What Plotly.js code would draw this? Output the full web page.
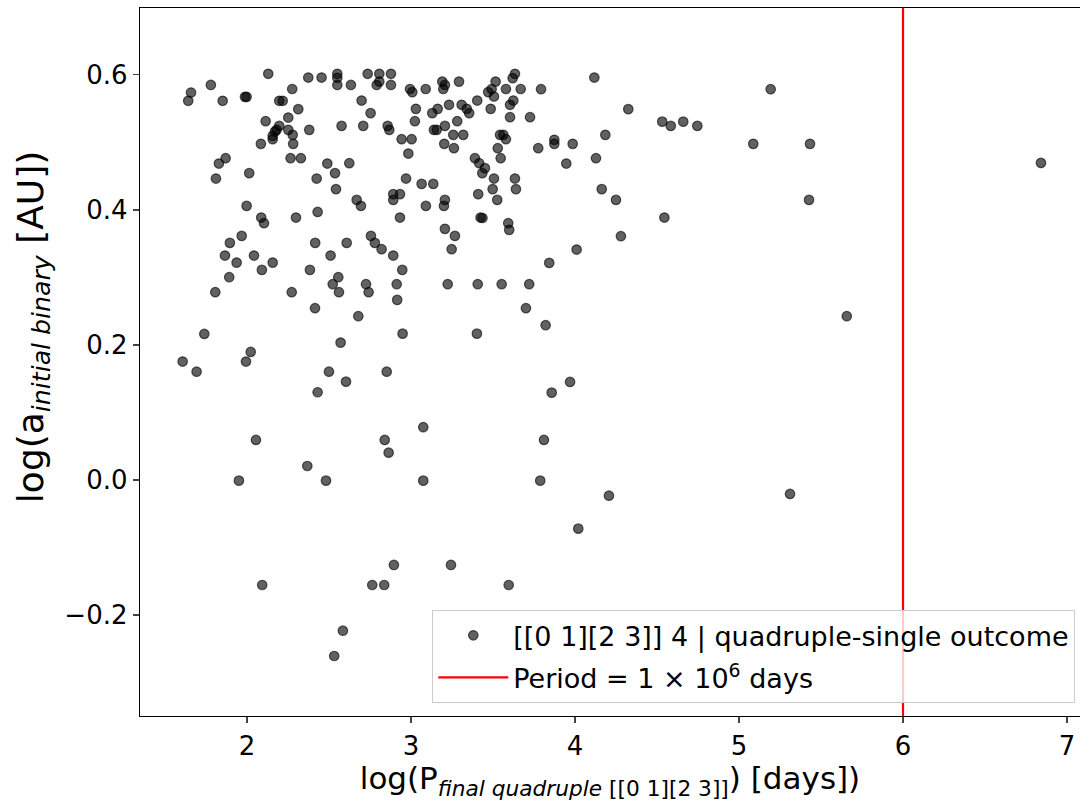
<!DOCTYPE html>
<html>
<head>
<meta charset="utf-8">
<script src="https://cdn.plot.ly/plotly-3.0.1.min.js"></script>
<style>html,body{margin:0;padding:0;background:#fff;}#chart{width:1080px;height:802px;}</style>
</head>
<body>
<div id="chart"></div>
<script>
// log(P_final quadruple) [days]
const logPeriod = [
  2.130,2.374,2.455,1.780,1.659,1.642,1.852,1.988,1.998,2.276,2.197,2.218,2.313,2.114,2.252,2.197,2.181,2.171,2.157,2.157,
  2.252,2.279,2.282,2.085,2.380,2.266,2.329,1.870,1.829,1.811,2.014,2.490,2.425,1.998,2.087,2.104,2.299,2.431,
  2.551,2.551,2.551,2.634,2.736,2.807,2.878,2.807,2.791,2.878,2.994,3.008,3.090,3.191,3.207,3.197,3.293,3.516,3.471,3.492,
  3.506,3.579,3.634,3.620,3.669,2.699,2.754,2.577,2.709,2.858,2.868,3.030,3.024,2.943,3.004,2.984,3.130,3.163,3.232,3.140,
  3.157,3.207,3.282,3.258,3.319,3.203,3.262,3.309,3.340,3.355,3.404,3.486,3.604,3.624,3.604,3.726,3.543,3.563,3.579,3.529,
  3.547,3.390,3.416,3.451,3.435,3.506,3.634,3.498,3.640,3.410,3.526,3.593,3.424,3.436,3.207,3.201,3.091,2.933,2.624,2.537,
  2.543,2.970,3.065,3.136,2.892,2.933,2.892,2.669,2.695,3.207,
  4.118,3.793,4.325,4.532,4.584,4.660,4.746,5.193,5.087,3.874,3.874,3.776,3.986,4.185,4.128,3.947,4.163,4.250,4.545,
  1.968,1.896,1.866,1.937,2.043,2.091,2.157,1.892,1.807,2.416,2.510,2.384,2.273,2.415,1.740,2.023,1.994,1.608,1.693,2.500,2.431,
  3.599,3.268,3.248,2.756,2.780,2.821,2.892,2.608,2.947,2.557,2.523,2.561,2.726,2.742,2.913,2.916,3.224,3.407,3.553,3.701,
  2.679,2.949,3.402,2.571,2.604,2.852,
  4.280,4.010,3.843,3.721,3.821,5.657,3.970,3.858,
  2.055,2.368,1.951,2.482,2.840,2.864,3.075,3.075,2.896,2.093,2.764,2.837,2.585,2.532,
  3.811,3.788,4.207,4.020,3.244,3.596,
  5.433,5.427,6.841,5.311
];
// log(a_initial binary) [AU]
const logSemiMajor = [
  0.6015,0.596,0.596,0.585,0.5738,0.5615,0.5615,0.5674,0.5674,0.579,0.5615,0.5615,0.5492,0.5314,0.5367,0.5244,0.5185,0.516,0.5096,0.5047,
  0.5185,0.5111,0.4978,0.4978,0.5185,0.4766,0.4766,0.4766,0.4686,0.4464,0.4544,0.4686,0.4464,0.4059,0.3886,0.3803,0.3886,0.397,
  0.6015,0.5956,0.585,0.585,0.6015,0.6015,0.6015,0.590,0.585,0.585,0.579,0.5744,0.579,0.590,0.585,0.579,0.590,0.590,0.5744,0.579,
  0.5679,0.579,0.6015,0.5951,0.579,0.5619,0.5433,0.5244,0.5244,0.5244,0.5185,0.5496,0.5314,0.5047,0.5047,0.4834,0.5433,0.5496,0.5556,0.5185,
  0.5185,0.5244,0.5314,0.5111,0.5111,0.4978,0.4914,0.5556,0.5496,0.5433,0.5619,0.5496,0.5556,0.5619,0.5373,0.5373,0.5111,0.5111,0.5047,0.4914,
  0.4766,0.4766,0.4692,0.4618,0.4544,0.4464,0.4464,0.4307,0.4307,0.4233,0.4148,0.3803,0.3886,0.388,0.4148,0.4059,0.4059,0.3886,0.4692,0.4544,
  0.4307,0.4464,0.4385,0.4385,0.4233,0.4233,0.4148,0.4148,0.4059,0.3719,
  0.596,0.5788,0.5492,0.5307,0.5244,0.5307,0.5244,0.5788,0.4978,0.5037,0.4978,0.4914,0.4978,0.5111,0.4766,0.4686,0.4307,0.4148,0.3886,
  0.3615,0.3511,0.3323,0.3219,0.3323,0.3111,0.3219,0.3003,0.2781,0.3511,0.3323,0.3111,0.2781,0.2544,0.2163,0.1896,0.1753,0.1753,0.1604,0.1604,0.1299,
  0.3704,0.3615,0.3418,0.3615,0.3511,0.3418,0.3323,0.3511,0.3111,0.3003,0.2899,0.2781,0.2899,0.2781,0.2899,0.2667,0.2899,0.2899,0.2899,0.2544,
  0.2425,0.2167,0.2167,0.2034,0.1456,0.1604,
  0.361,0.3412,0.3215,0.2899,0.2292,0.2425,0.1452,0.1293,
  0.0593,0.0207,-0.001,-0.001,0.0593,0.0404,0.0781,-0.001,-0.1259,-0.1556,-0.1556,-0.1556,-0.2233,-0.2607,
  0.0593,-0.001,-0.0233,-0.0721,-0.1259,-0.1556,
  0.4978,0.4148,0.4696,-0.0207
];
const scatterLabel = '[[0 1][2 3]] 4 | quadruple-single outcome';
const periodLimit = 6; // log10(1e6 days)
const periodLabel = 'Period = 1 \u00d7 10<sup>6</sup> days';
const xTitle = 'log(P<sub><i>final quadruple</i> [[0 1][2 3]]</sub>) [days])';
const yTitle = 'log(a<sub><i>initial binary</i></sub> [AU])';
const xTicks = [2, 3, 4, 5, 6, 7];
const yTicks = [-0.2, 0.0, 0.2, 0.4, 0.6];
const xRange = [1.348, 7.079];
const yRange = [-0.3496, 0.699];

const traces = [
  {
    type: 'scatter', mode: 'markers', name: scatterLabel,
    x: logPeriod, y: logSemiMajor, legendgroup: 'a',
    marker: {size: 9.5, color: 'rgba(0,0,0,0.62)', line: {width: 1.2, color: 'rgba(0,0,0,0.62)'}}
  },
  {
    type: 'scatter', mode: 'lines', name: periodLabel, legendgroup: 'b',
    x: [periodLimit, periodLimit], y: yRange,
    line: {color: '#ff0000', width: 2.2}
  }
];

const layout = {
  width: 1080, height: 802,
  paper_bgcolor: '#fff', plot_bgcolor: '#fff',
  margin: {l: 140, r: 0, t: 8, b: 86},
  font: {family: 'DejaVu Sans, sans-serif', color: '#000'},
  showlegend: true,
  legend: {
    x: 0.995, xanchor: 'right', y: 0.018, yanchor: 'bottom',
    bgcolor: 'rgba(255,255,255,0.8)', bordercolor: '#cccccc', borderwidth: 1,
    font: {size: 27, family: 'DejaVu Sans, sans-serif'},
    traceorder: 'grouped', tracegroupgap: 4, itemwidth: 70
  },
  xaxis: {
    range: xRange, tickvals: xTicks, ticks: 'outside', ticklen: 6, tickwidth: 1.3,
    showline: true, linecolor: '#000', linewidth: 1.3, mirror: true,
    showgrid: false, zeroline: false,
    tickfont: {size: 26},
    title: {text: xTitle, font: {size: 31}, standoff: 4}
  },
  yaxis: {
    range: yRange, tickvals: yTicks, tickformat: '.1f', ticks: 'outside', ticklen: 6, tickwidth: 1.3,
    showline: true, linecolor: '#000', linewidth: 1.3, mirror: false,
    showgrid: false, zeroline: false,
    tickfont: {size: 26}
  },
  annotations: [{
    text: yTitle, xref: 'paper', yref: 'paper', x: -0.114, y: 0.549,
    xanchor: 'center', yanchor: 'middle', textangle: -90, showarrow: false,
    font: {size: 36}
  }]
};

Plotly.newPlot('chart', traces, layout, {staticPlot: true, displayModeBar: false});
</script>
</body>
</html>
